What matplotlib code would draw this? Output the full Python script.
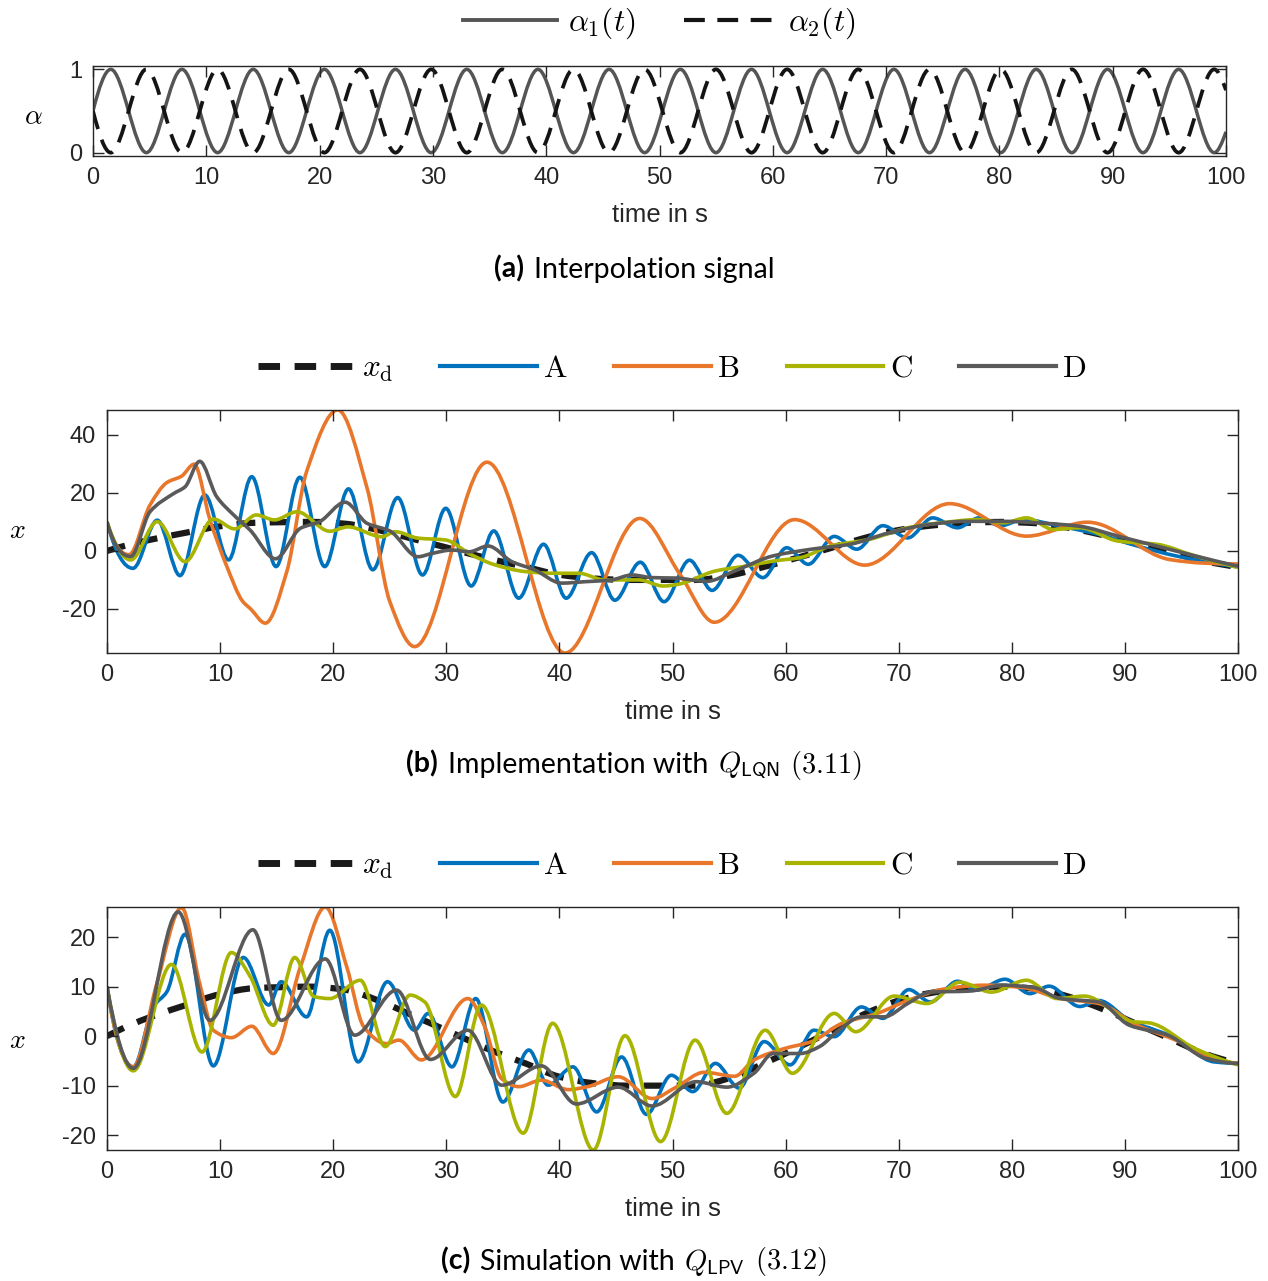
import numpy as np
import matplotlib
matplotlib.use('Agg')
import matplotlib.pyplot as plt
from matplotlib.path import Path
from matplotlib.patches import PathPatch
from matplotlib.lines import Line2D
from matplotlib.offsetbox import TextArea, HPacker, AnchoredOffsetbox

plt.rcParams['font.family'] = 'Liberation Sans'
plt.rcParams['mathtext.fontset'] = 'cm'
plt.rcParams['axes.unicode_minus'] = False

# ---- data (turning points) ----
alpha_t = [0, 1.57, 4.71, 7.85, 11.0, 14.14, 17.28, 20.42, 23.56, 26.7, 29.85, 32.99,
           36.13, 39.27, 42.41, 45.55, 48.69, 51.84, 54.98, 58.12, 61.26, 64.4, 67.54,
           70.69, 73.83, 76.97, 80.11, 83.25, 86.39, 89.54, 92.68, 95.82, 98.96, 100]
alpha1 = [0.5, 1, 0, 1, 0, 1, 0, 1, 0, 1, 0, 1, 0, 1, 0, 1, 0, 1, 0, 1, 0, 1, 0,
          1, 0, 1, 0, 1, 0, 1, 0, 1, 0, 0.25]
alpha2 = [1 - a for a in alpha1]

xd_t = [0, 2, 4, 7, 10, 13, 18, 21, 24, 27, 30, 34, 37, 40, 43, 46, 52, 55, 58, 61,
        64, 67, 70, 73, 76, 79, 82, 85, 88, 91, 94, 97, 100]
xd = [0, 2.2, 4, 6.3, 8.5, 9.7, 10, 9.4, 7.2, 4.2, 1.2, -2.9, -5.5, -8.2, -9.5, -10,
      -10, -8.5, -5.6, -2.4, 1, 4.5, 7.2, 8.8, 9.7, 10, 9.6, 8, 5.5, 2.5, -0.5, -3.5, -5.5]

# panel (b)
b_A_t = [0, 2.3, 4.45, 6.45, 8.65, 10.75, 12.8, 14.95, 17.05, 19.25, 21.35, 23.5, 25.7,
         27.9, 29.95, 32.2, 34.2, 36.4, 38.6, 40.6, 42.85, 44.9, 47.15, 49.25, 51.5,
         53.5, 55.8, 58.0, 60.1, 62.0, 64.3, 66.3, 68.6, 70.8, 73.0, 75.2, 77.1, 79.0,
         81.0, 84.3, 87.7, 91.1, 94.5, 100]
b_A = [10, -6.0, 10.6, -8.5, 19.3, -3.1, 25.6, -5.4, 25.4, -5.4, 21.4, -6.5, 18.4,
       -8.3, 14.7, -12.1, 6.9, -16.3, 2.3, -16.3, -0.6, -17.0, -3.9, -17.5, -3.2,
       -13.6, -1.5, -9.2, 1.1, -4.6, 5.0, 0.6, 8.7, 4.5, 11.4, 8.0, 11.4, 8.7, 10.8,
       8.5, 5.7, 1.7, -1.7, -5.5]

b_B_t = [0, 1.95, 3.8, 5.3, 6.6, 7.7, 9.1, 10.6, 12.0, 12.7, 14.0, 15.9, 17.65, 20.4,
         23.0, 25.0, 27.2, 33.6, 40.5, 47.1, 50.7, 53.7, 60.8, 67.0, 74.5, 81.3, 86.7,
         94.0, 97.0, 100]
b_B = [10, -1.3, 15.8, 23.6, 25.8, 29.9, 10.8, -5.4, -17.4, -20.0, -24.9, -7.1, 27.4,
       48.6, 21.6, -17.4, -33.0, 30.6, -35.2, 11.2, -8.3, -24.6, 10.8, -4.9, 16.3, 5.1,
       9.9, -3.0, -4.2, -4.5]

b_C_t = [0, 2.1, 4.45, 6.9, 9.4, 11.3, 13.2, 14.8, 16.8, 19.7, 21.3, 24.3, 25.5, 27.5,
         29.9, 32.2, 34.3, 36.95, 39.3, 41.7, 44.0, 47.0, 49.2, 50.5, 53.8, 56.5, 58.9,
         61.3, 64.0, 67.4, 70.8, 74.2, 76.9, 79.3, 81.3, 83.7, 86.0, 89.4, 92.8, 96.2,
         100]
b_C = [10, -3.1, 10.1, -3.7, 11.0, 7.6, 12.4, 10.7, 13.5, 6.8, 8.3, 4.9, 6.6, 4.4, 3.8,
       -1.3, -4.8, -7.1, -7.7, -7.7, -10, -10, -12.1, -11.5, -6.9, -5.2, -3.5, -2.3,
       1.7, 4.0, 8.0, 9.9, 10.8, 9.7, 11.4, 7.4, 8.0, 3.4, 2.3, -1.7, -5.7]

b_D_t = [0, 2.1, 3.8, 5.9, 6.9, 8.2, 9.7, 11.2, 12.65, 14.9, 17.1, 18.8, 21.05, 23.0,
         25.0, 27.5, 28.7, 30.5, 32.0, 33.7, 35.8, 37.8, 40.2, 42.3, 44.6, 46.4, 48.2,
         50.4, 53.0, 55.5, 58.9, 62.3, 65.7, 69.1, 72.5, 75.9, 79.3, 82.6, 86.0, 89.4,
         92.8, 96.2, 100]
b_D = [10, -1.9, 13.5, 19.8, 22.1, 30.9, 18.7, 12.4, 7.2, -2.7, 7.8, 10.1, 16.8, 9.5,
       6.9, -2.0, -0.9, 0.3, -0.3, 1.7, -3.7, -6.5, -11.1, -10.6, -10.0, -8.3, -9.2,
       -9.4, -10.5, -6.9, -1.7, 0.6, 2.3, 6.2, 9.0, 10.2, 10.2, 9.6, 8.5, 5.1, 1.7,
       -1.7, -5.3]

# panel (c)
c_A_t = [0, 2.33, 4.1, 5.3, 6.9, 9.4, 12.05, 14.3, 15.4, 17.65, 19.7, 22.2, 24.8, 27.2,
         28.4, 30.5, 32.6, 35.0, 37.3, 39.0, 41.2, 43.3, 45.5, 47.7, 49.9, 51.8, 53.8,
         55.9, 58.1, 60.4, 62.5, 64.3, 66.7, 68.6, 70.9, 72.8, 75.2, 76.9, 79.4, 81.6,
         83.3, 86.0, 87.7, 90.4, 94.2, 97.9, 100]
c_A = [10, -6.2, 6.0, 9.0, 20.6, -6.0, 15.9, 6.3, 11.0, 3.9, 21.4, -5.2, 11.0, 1.2,
       4.6, -6.2, 7.6, -13.3, -2.8, -9.9, -6.2, -15.3, -4.2, -15.8, -7.9, -11.2, -5.5,
       -10.5, -1.1, -5.8, 1.2, -0.1, 5.9, 3.6, 9.4, 6.9, 11.1, 9.3, 11.5, 8.6, 10.1,
       6.0, 7.2, 3.2, -0.1, -5.2, -5.5]

c_B_t = [0, 2.33, 4.4, 6.6, 8.2, 9.4, 11.0, 12.8, 14.7, 17.1, 19.3, 21.2, 22.7, 24.7,
         25.8, 27.8, 31.9, 33.4, 34.9, 36.4, 38.4, 40.8, 42.5, 45.2, 48.2, 50.4, 52.8,
         55.5, 57.2, 59.9, 62.3, 65.0, 68.1, 70.8, 74.2, 77.6, 81.0, 84.3, 87.7, 91.1,
         94.5, 97.9, 100]
c_B = [10, -6.2, 10.6, 26.0, 10.6, 1.2, -0.3, 2.0, -3.5, 14.0, 26.1, 14.0, 1.9, -1.5,
       -0.8, -4.8, 7.6, 1.9, -8.6, -10.2, -8.9, -10.8, -10.2, -8.2, -12.6, -10.2, -7.3,
       -8.1, -4.8, -2.5, -1.1, 2.6, 4.6, 7.2, 9.6, 10.3, 9.8, 7.6, 6.6, 2.2, -0.8, -4.5,
       -5.5]

c_C_t = [0, 2.33, 5.7, 8.4, 11.0, 12.65, 14.7, 16.6, 18.3, 19.7, 22.4, 24.6, 26.8, 28.1,
         30.8, 33.1, 36.8, 39.4, 43.0, 45.8, 48.95, 52.0, 54.8, 58.2, 60.6, 64.3, 66.2,
         69.6, 72.5, 75.4, 78.2, 81.3, 84.0, 86.4, 90.8, 92.1, 96.2, 100]
c_C = [10, -7.0, 14.5, -3.2, 16.9, 12.1, 2.2, 15.9, 8.0, 7.6, 11.3, -2.1, 8.3, 6.9,
       -12.2, 6.3, -19.6, 2.6, -23.0, 0.1, -21.3, -0.8, -15.6, 1.2, -7.5, 4.6, 0.9, 8.1,
       6.6, 10.9, 8.9, 11.3, 7.6, 8.1, 2.9, 2.7, -2.5, -5.8]

c_D_t = [0, 2.33, 6.3, 9.1, 12.9, 15.4, 19.3, 21.9, 25.6, 28.6, 31.9, 34.9, 38.4, 41.5,
         45.2, 48.2, 52.1, 54.8, 57.2, 58.9, 61.3, 63.0, 64.7, 66.7, 68.7, 70.8, 72.8,
         76.2, 79.3, 82.0, 84.3, 87.7, 90.4, 93.8, 97.2, 100]
c_D = [10, -6.5, 25.1, 3.2, 21.5, 3.2, 15.6, 0.2, 9.3, -4.7, 1.2, -9.9, -6.0, -13.7,
       -10.3, -14.1, -9.2, -10.3, -7.5, -3.5, -3.5, -2.1, 1.2, 3.9, 3.9, 6.6, 8.9, 9.1,
       10.3, 9.8, 7.6, 6.9, 2.2, 0.2, -4.5, -5.5]

names = ['A', 'B', 'C', 'D']
colors = ['#0072BD', '#E8762B', '#A8B400', '#5A5A5A']
xd_color = '#1A1A1A'


# monotone cubic slopes (zero at turning points) -> drawn as Bezier curves
def slopes(t, y):
    t = np.asarray(t, float)
    y = np.asarray(y, float)
    h = np.diff(t)
    d = np.diff(y) / h
    m = np.zeros_like(y)
    for k in range(1, len(y) - 1):
        if d[k - 1] * d[k] > 0:
            w1 = 2 * h[k] + h[k - 1]
            w2 = h[k] + 2 * h[k - 1]
            m[k] = (w1 + w2) / (w1 / d[k - 1] + w2 / d[k])
    for i, hi, hj in [(0, 0, 1), (-1, -1, -2)]:
        mm = ((2 * h[hi] + h[hj]) * d[hi] - h[hi] * d[hj]) / (h[hi] + h[hj])
        if np.sign(mm) != np.sign(d[hi]):
            mm = 0
        elif np.sign(d[hi]) != np.sign(d[hj]) and abs(mm) > abs(3 * d[hi]):
            mm = 3 * d[hi]
        m[i] = mm
    return m


def smooth_path(t, y):
    m = slopes(t, y)
    verts = [(t[0], y[0])]
    codes = [Path.MOVETO]
    for k in range(len(t) - 1):
        h = t[k + 1] - t[k]
        verts += [(t[k] + h / 3, y[k] + m[k] * h / 3),
                  (t[k + 1] - h / 3, y[k + 1] - m[k + 1] * h / 3),
                  (t[k + 1], y[k + 1])]
        codes += [Path.CURVE4] * 3
    return Path(verts, codes)


def draw(ax, t, y, color, lw, dashes=None):
    p = PathPatch(smooth_path(t, y), fill=False, edgecolor=color, lw=lw,
                  joinstyle='round', capstyle='butt')
    if dashes:
        p.set_linestyle((0, dashes))
    ax.add_patch(p)


def style(ax, ylim, yticks):
    ax.set_xlim(0, 100)
    ax.set_ylim(ylim)
    ax.set_xticks(range(0, 101, 10))
    ax.set_yticks(yticks)
    ax.tick_params(direction='in', top=True, right=True, length=8, width=1,
                   colors='#262626', labelsize=17, pad=8)
    for s in ax.spines.values():
        s.set_color('#262626')
        s.set_linewidth(1)


def caption(ax, fig, y, tag, parts):
    kids = [TextArea(tag, textprops=dict(family='Lato', weight='bold', size=20.5))]
    for p in parts:
        kids.append(TextArea(p, textprops=dict(family='Lato', size=20.5)))
    box = HPacker(children=kids, align='baseline', pad=0, sep=7)
    anc = AnchoredOffsetbox(loc='center', child=box, frameon=False, pad=0, borderpad=0,
                            bbox_to_anchor=(0.5, y), bbox_transform=fig.transFigure)
    ax.add_artist(anc)


fig = plt.figure(figsize=(12.68, 12.81), dpi=100)
W, H = 1268, 1281

# (a) interpolation signal
ax1 = fig.add_axes([93 / W, 1 - 156 / H, 1133 / W, 90 / H])
draw(ax1, alpha_t, alpha1, '#555555', 2.5)
draw(ax1, alpha_t, alpha2, '#141414', 2.7, dashes=(5, 3))
style(ax1, (-0.04, 1.04), [0, 1])
ax1.set_ylabel(r'$\alpha$', rotation=0, fontsize=20, va='center', ha='center')
ax1.yaxis.set_label_coords(-0.053, 0.43)
ax1.set_xlabel('time in s', fontsize=18.5, va='center', color='#262626')
ax1.xaxis.set_label_coords(0.5, -0.655)
h1 = [Line2D([], [], color='#555555', lw=2.8),
      Line2D([], [], color='#141414', lw=3.0, dashes=(5, 3))]
ax1.legend(h1, [r'$\alpha_1(t)$', r'$\alpha_2(t)$'], loc='center',
           bbox_to_anchor=(0.5, 1.478), ncol=2, frameon=False, fontsize=22.5,
           handlelength=3.0, handletextpad=0.35, columnspacing=1.55)
caption(ax1, fig, 1 - 269 / H, '(a)', ['Interpolation signal'])

panels = [
    (410, [b_A_t, b_B_t, b_C_t, b_D_t], [b_A, b_B, b_C, b_D], [-20, 0, 20, 40],
     '(b)', ['Implementation with', r'$Q_{\mathsf{LQN}}$', r'$(3.11)$'], 765, 0.5),
    (907, [c_A_t, c_B_t, c_C_t, c_D_t], [c_A, c_B, c_C, c_D], [-20, -10, 0, 10, 20],
     '(c)', ['Simulation with', r'$Q_{\mathsf{LPV}}$', r'$(3.12)$'], 1262, 0.45),
]

for top, ts, ys, yt, tag, parts, cap_y, ylab_y in panels:
    ax = fig.add_axes([107 / W, 1 - (top + 243) / H, 1131 / W, 243 / H])
    draw(ax, xd_t, xd, xd_color, 4.5, dashes=(3.0, 2.3))
    for t, y, c in zip(ts, ys, colors):
        draw(ax, t, y, c, 2.6)
    lo = min(min(y) for y in ys)
    hi = max(max(y) for y in ys)
    style(ax, (lo, hi), yt)
    ax.set_ylabel(r'$x$', rotation=0, fontsize=20, va='center', ha='center')
    ax.yaxis.set_label_coords(-0.079, ylab_y)
    ax.set_xlabel('time in s', fontsize=18.5, va='center', color='#262626')
    ax.xaxis.set_label_coords(0.5, -0.243)
    hs = [Line2D([], [], color=xd_color, lw=5, dashes=(3.1, 2.1))]
    hs += [Line2D([], [], color=c, lw=3) for c in colors]
    labels = [r'$x_{\mathrm{d}}$'] + [r'$\mathrm{%s}$' % n for n in names]
    ax.legend(hs, labels, loc='center', bbox_to_anchor=(0.5, 1.169), ncol=5,
              frameon=False, fontsize=22.5, handlelength=3.1, handletextpad=0.2,
              columnspacing=1.5)
    caption(ax, fig, 1 - cap_y / H, tag, parts)

fig.savefig('out.png', dpi=100)
